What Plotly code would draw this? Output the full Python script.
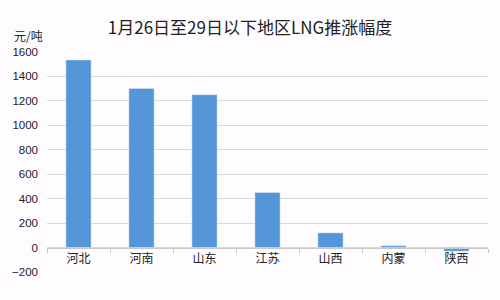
import plotly.graph_objects as go

categories = ["河北", "河南", "山东", "江苏", "山西", "内蒙", "陕西"]
values = [1535, 1302, 1250, 450, 120, 15, -30]
y_ticks = [-200, 0, 200, 400, 600, 800, 1000, 1200, 1400, 1600]

ymin, ymax = -200, 1600

fig = go.Figure()
fig.add_trace(go.Bar(x=categories, y=values, marker_color="#5596d8", width=0.4))

fig.update_layout(
    width=500, height=300,
    margin=dict(l=43, r=12, t=52, b=28),
    paper_bgcolor="#fefcfe", plot_bgcolor="#fefcfe",
    showlegend=False,
    font=dict(family="Noto Sans CJK SC", color="#222222"),
    title=dict(text="1月26日至29日以下地区LNG推涨幅度", x=0.5, xanchor="center",
               y=0.905, yanchor="middle", font=dict(size=17, color="#222222")),
    xaxis=dict(anchor="free", position=(0 - ymin) / (ymax - ymin),
               showline=True, linecolor="#c8c8c8", linewidth=1,
               ticks="outside", tickson="boundaries", ticklen=4, tickcolor="#c8c8c8",
               tickfont=dict(size=12, color="#222222"), showgrid=False),
    yaxis=dict(range=[ymin, ymax], tickvals=y_ticks, showgrid=True,
               gridcolor="#d9d9d9", zeroline=False,
               tickfont=dict(size=11.5, family="Liberation Sans", color="#222222"),
               ticklabelstandoff=8),
    bargap=0.6,
)
fig.add_annotation(text="元/吨", xref="paper", yref="paper", x=-0.079, y=1.073,
                   xanchor="left", yanchor="middle", showarrow=False,
                   font=dict(size=12, color="#222222"))
fig.write_html("out.html")
